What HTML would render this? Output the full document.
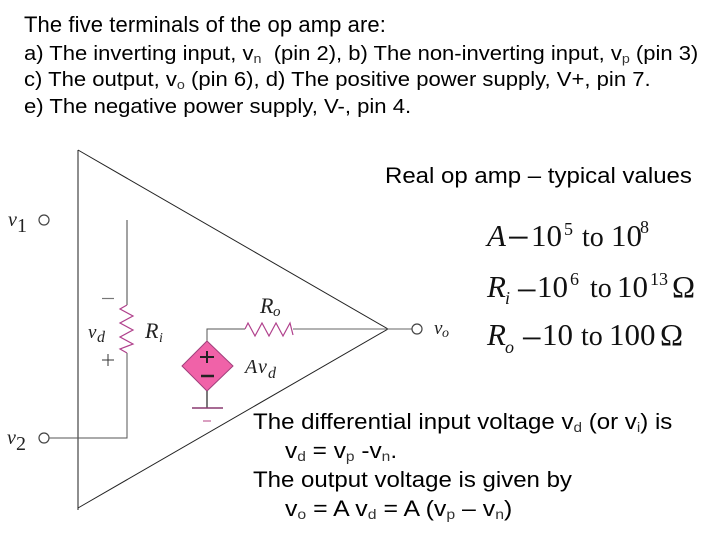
<!DOCTYPE html>
<html>
<head>
<meta charset="utf-8">
<style>
html,body{margin:0;padding:0;background:#fff;width:720px;height:540px;overflow:hidden}
svg{display:block}
.s{font-family:"Liberation Sans",sans-serif;fill:#000}
.h{letter-spacing:.1px}
.t{font-family:"Liberation Serif",serif;fill:#222}
.i{font-style:italic}
.m{font-family:"Liberation Serif",serif;fill:#111}
.b{fill:#333}
</style>
</head>
<body>
<svg width="720" height="540" viewBox="0 0 720 540" xmlns="http://www.w3.org/2000/svg">
<rect width="720" height="540" fill="#fff"/>

<!-- Header text -->
<text class="s h" x="24" y="32" font-size="22">The five terminals of the op amp are:</text>
<text class="s" transform="translate(24 60) scale(1.101 1)" font-size="20">a) The inverting input, v<tspan class="b" font-size="13" dy="3">n</tspan><tspan dy="-3">&#160; (pin 2), b) The non-inverting input, v</tspan><tspan class="b" font-size="13" dy="3">p</tspan><tspan dy="-3"> (pin 3)</tspan></text>
<text class="s" transform="translate(24 86) scale(1.104 1)" font-size="20">c) The output, v<tspan class="b" font-size="13" dy="3">o</tspan><tspan dy="-3"> (pin 6), d) The positive power supply, V+, pin 7.</tspan></text>
<text class="s" transform="translate(24 113) scale(1.105 1)" font-size="20">e) The negative power supply, V-, pin 4.</text>

<!-- Op amp triangle -->
<path d="M78 150V510" stroke="#444" stroke-width="1.2" fill="none"/>
<path d="M78 150L388 329L78 508" stroke="#222" stroke-width="1" fill="none"/>

<!-- Input circuit -->
<circle cx="44" cy="220" r="5" fill="#fff" stroke="#444" stroke-width="1.2"/>
<circle cx="44" cy="438" r="5" fill="#fff" stroke="#444" stroke-width="1.2"/>
<path d="M127 220V305" stroke="#444" stroke-width="1" fill="none"/>
<path d="M127 353V438H49" stroke="#555" stroke-width="1" fill="none"/>
<path d="M127 305L120 309L133 316L120 323L133 330L120 337L133 344L120 349L127 353" stroke="#b0408c" stroke-width="1.2" fill="none"/>
<path d="M102 298.500H114" stroke="#777" stroke-width="1.2"/>
<path d="M102 360H114M108 354V366" stroke="#333" stroke-width="1"/>

<!-- Output circuit -->
<path d="M207 341V329H245" stroke="#555" stroke-width="1" fill="none"/>
<path d="M245 329L248 323L255 336L262 323L269 336L276 323L283 336L290 323L293 335" stroke="#b0408c" stroke-width="1.2" fill="none"/>
<path d="M293 329H412" stroke="#666" stroke-width="1" fill="none"/>
<circle cx="417" cy="329" r="5" fill="#fff" stroke="#444" stroke-width="1.2"/>

<!-- Dependent source -->
<polygon points="207,341 233,366 207,391 182,366" fill="#f062a8" stroke="#a0407c" stroke-width="1"/>
<path d="M207 351V363M200 357H214" stroke="#222" stroke-width="2" fill="none"/>
<path d="M201 376H214" stroke="#222" stroke-width="2.500" fill="none"/>
<path d="M207 391V408" stroke="#222" stroke-width="1.200" fill="none"/>
<path d="M192 408H223" stroke="#8a3a70" stroke-width="1.500" fill="none"/>
<path d="M203 421H211" stroke="#c06098" stroke-width="1.200" fill="none"/>

<!-- Circuit labels -->
<text class="t i" x="8" y="226" font-size="20">v</text>
<text class="t" x="17" y="232" font-size="20">1</text>
<text class="t i" x="7" y="444" font-size="20">v</text>
<text class="t" x="16" y="450" font-size="20">2</text>
<text class="t i" x="88" y="338" font-size="19">v</text>
<text class="t i" x="97" y="342" font-size="16">d</text>
<text class="t i" x="145" y="338" font-size="22">R</text>
<text class="t i" x="159" y="342" font-size="14">i</text>
<text class="t i" x="260" y="313" font-size="22">R</text>
<text class="t i" x="273" y="316" font-size="15">o</text>
<text class="t i" x="245" y="373" font-size="20">A</text>
<text class="t i" x="258" y="373" font-size="20">v</text>
<text class="t i" x="268" y="378" font-size="16">d</text>
<text class="t i" x="434" y="334" font-size="19">v</text>
<text class="t i" x="442" y="337" font-size="14">o</text>

<!-- Real op amp values -->
<text class="s" transform="translate(385 183) scale(1.092 1)" font-size="22">Real op amp – typical values</text>

<g font-size="31">
<text class="m i" x="487" y="246">A</text>
<text class="m" x="507" y="251" font-size="40">−</text>
<text class="m" x="531" y="246">10</text>
<text class="m" x="564" y="235" font-size="18">5</text>
<text class="m" x="582" y="246" font-size="28">to</text>
<text class="m" x="611" y="246">10</text>
<text class="m" x="640" y="233" font-size="18">8</text>

<text class="m i" x="487" y="297">R</text>
<text class="m i" x="505" y="304" font-size="18">i</text>
<text class="m" x="516" y="303" font-size="38">−</text>
<text class="m" x="537" y="297">10</text>
<text class="m" x="570" y="285" font-size="18">6</text>
<text class="m" x="590" y="297" font-size="28">to</text>
<text class="m" x="617" y="297">10</text>
<text class="m" x="650" y="285" font-size="18">13</text>
<text class="m" x="672" y="297">Ω</text>

<text class="m i" x="487" y="345">R</text>
<text class="m i" x="505" y="353" font-size="18">o</text>
<text class="m" x="521" y="351" font-size="38">−</text>
<text class="m" x="542" y="345">10</text>
<text class="m" x="581" y="345" font-size="28">to</text>
<text class="m" x="609" y="345">100</text>
<text class="m" x="660" y="345">Ω</text>
</g>

<!-- Lower text -->
<text class="s" transform="translate(253 429) scale(1.094 1)" font-size="22">The differential input voltage v<tspan class="b" font-size="14" dy="3">d</tspan><tspan dy="-3"> (or v</tspan><tspan class="b" font-size="14" dy="3">i</tspan><tspan dy="-3">) is</tspan></text>
<text class="s" transform="translate(285 458) scale(1.11 1)" font-size="22">v<tspan class="b" font-size="14" dy="3">d</tspan><tspan dy="-3"> = v</tspan><tspan class="b" font-size="14" dy="3">p</tspan><tspan dy="-3"> -v</tspan><tspan class="b" font-size="14" dy="3">n</tspan><tspan dy="-3">.</tspan></text>
<text class="s" transform="translate(253 487) scale(1.092 1)" font-size="22">The output voltage is given by</text>
<text class="s" transform="translate(285 516) scale(1.13 1)" font-size="22">v<tspan class="b" font-size="14" dy="3">o</tspan><tspan dy="-3"> = A v</tspan><tspan class="b" font-size="14" dy="3">d</tspan><tspan dy="-3"> = A (v</tspan><tspan class="b" font-size="14" dy="3">p</tspan><tspan dy="-3"> – v</tspan><tspan class="b" font-size="14" dy="3">n</tspan><tspan dy="-3">)</tspan></text>
</svg>
</body>
</html>
